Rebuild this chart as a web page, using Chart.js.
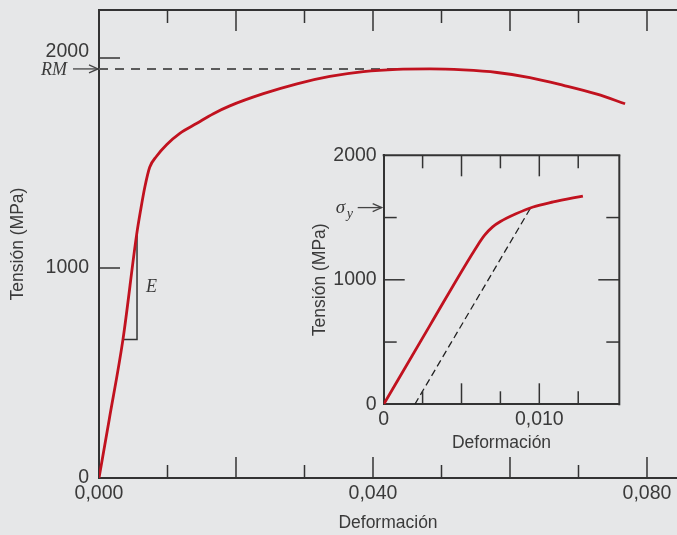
<!DOCTYPE html>
<html>
<head>
<meta charset="utf-8">
<script src="https://cdn.jsdelivr.net/npm/chart.js@4.4.0/dist/chart.umd.min.js"></script>
<style>
  html, body { margin: 0; padding: 0; background: #e6e7e8; }
  #wrap { position: relative; width: 677px; height: 535px; overflow: hidden; }
  #main { position: absolute; left: 0; top: 0; }
  #inset { position: absolute; left: 300px; top: 140px; }
</style>
</head>
<body>
<div id="wrap">
  <canvas id="main" width="677" height="535"></canvas>
  <canvas id="inset" width="340" height="320"></canvas>
</div>
<script>
// main stress-strain curve (strain, MPa)
const mainStrain = [0, 0.0015, 0.0035, 0.0055, 0.0061, 0.0067, 0.0074, 0.0084, 0.0099, 0.0118, 0.0143, 0.0167, 0.0191, 0.0240, 0.0289, 0.0337, 0.0386, 0.0435, 0.0483, 0.0532, 0.0581, 0.0629, 0.0678, 0.0727, 0.0768];
const mainStress = [0, 280, 660, 1160, 1280, 1387, 1480, 1532, 1588, 1641, 1689, 1735, 1772, 1830, 1877, 1912, 1935, 1946, 1948, 1943, 1931, 1907, 1870, 1828, 1782];

// RM level and the E triangle
const rmStress = 1948;
const rmStrain = [0, 0.046];
const slopeStrain = [0.0035, 0.00555, 0.00555];
const slopeStress = [660, 660, 1160];

// inset: early part of the curve + 0.002 offset line
const insetStrain = [0, 0.0030, 0.0060, 0.0065, 0.0070, 0.0075, 0.0085, 0.0096, 0.0109, 0.0128];
const insetStress = [0, 640, 1270, 1360, 1425, 1468, 1530, 1585, 1625, 1673];
const offsetStrain = [0.002, 0.0095];
const offsetStress = [0, 1590];
const yieldStress = 1580;

// ticks
const mainXTickValues = [0, 0.04, 0.08];
const mainXTickLabels = ['0,000', '0,040', '0,080'];
const mainYTickValues = [0, 1000, 2000];
const mainYTickLabels = ['0', '1000', ['2000', '']]; // 2000 sits a bit above its tick
const mainXMajor = [0.02, 0.04, 0.06, 0.08];
const mainXMinor = [0.01, 0.03, 0.05, 0.07];
const mainYMajor = [1000, 2000];

const insetXTickValues = [0, 0.01];
const insetXTickLabels = ['0', '0,010'];
const insetYTickValues = [0, 1000, 2000];
const insetYTickLabels = ['0', '1000', '2000'];
const insetXMajor = [0.005, 0.01];
const insetXMinor = [0.0025, 0.0075, 0.0125];
const insetYMajor = [1000];
const insetYMinor = [500, 1500];

const red = '#c1121f';
const axisColor = '#333333';
const textColor = '#3a3a3a';
const sans = "'Liberation Sans', Arial, sans-serif";
const serif = "'Liberation Serif', 'Times New Roman', serif";

function pts(xs, ys) { return xs.map((x, i) => ({x: x, y: ys[i]})); }
function pick(values, labels) {
  return v => {
    const i = values.findIndex(t => Math.abs(t - v) < 1e-7);
    return i >= 0 ? labels[i] : '';
  };
}
function fixTicks(values) {
  return s => { s.ticks = values.map(v => ({value: v})); };
}
function fitX(h) {
  return s => { s.height = h; s.paddingLeft = 0; s.paddingRight = 0; };
}
function fitY(w) {
  return s => { s.width = w; s.paddingTop = 0; s.paddingBottom = 0; };
}
function seg(ctx, x1, y1, x2, y2) {
  ctx.beginPath(); ctx.moveTo(x1, y1); ctx.lineTo(x2, y2); ctx.stroke();
}
function arrow(ctx, x1, x2, y) {
  seg(ctx, x1, y, x2, y);
  ctx.beginPath();
  ctx.moveTo(x2 - 9, y - 4); ctx.lineTo(x2, y); ctx.lineTo(x2 - 9, y + 4);
  ctx.stroke();
}

const mainDecor = {
  id: 'mainDecor',
  afterDraw(chart) {
    const {ctx, chartArea: a, scales: {x, y}} = chart;
    ctx.save();
    ctx.strokeStyle = axisColor;
    ctx.lineWidth = 2;
    seg(ctx, a.left - 1, a.top, a.right, a.top);
    ctx.lineWidth = 1.5;
    mainXMajor.forEach(v => {
      const p = x.getPixelForValue(v);
      seg(ctx, p, a.bottom, p, a.bottom - 21);
      seg(ctx, p, a.top, p, a.top + 21);
    });
    mainXMinor.forEach(v => {
      const p = x.getPixelForValue(v);
      seg(ctx, p, a.bottom, p, a.bottom - 13);
      seg(ctx, p, a.top, p, a.top + 13);
    });
    mainYMajor.forEach(v => {
      const p = y.getPixelForValue(v);
      seg(ctx, a.left, p, a.left + 21, p);
    });
    // RM arrow
    const ry = y.getPixelForValue(rmStress);
    ctx.lineWidth = 1.3;
    ctx.strokeStyle = '#444';
    arrow(ctx, a.left - 26, a.left - 1, ry);
    ctx.fillStyle = textColor;
    ctx.font = 'italic 18px ' + serif;
    ctx.textAlign = 'right';
    ctx.textBaseline = 'alphabetic';
    ctx.fillText('RM', a.left - 32, ry + 6);
    // E label
    const ex = x.getPixelForValue(slopeStrain[1]);
    const ey = y.getPixelForValue((slopeStress[0] + slopeStress[2]) / 2);
    ctx.textAlign = 'left';
    ctx.fillText('E', ex + 9, ey + 5);
    ctx.restore();
  }
};

const insetDecor = {
  id: 'insetDecor',
  afterDraw(chart) {
    const {ctx, chartArea: a, scales: {x, y}} = chart;
    ctx.save();
    ctx.strokeStyle = axisColor;
    ctx.lineWidth = 2;
    seg(ctx, a.left - 1, a.top, a.right + 1, a.top);
    seg(ctx, a.right, a.top, a.right, a.bottom + 1);
    ctx.lineWidth = 1.5;
    insetXMajor.forEach(v => {
      const p = x.getPixelForValue(v);
      seg(ctx, p, a.bottom, p, a.bottom - 21);
      seg(ctx, p, a.top, p, a.top + 21);
    });
    insetXMinor.forEach(v => {
      const p = x.getPixelForValue(v);
      seg(ctx, p, a.bottom, p, a.bottom - 13);
      seg(ctx, p, a.top, p, a.top + 13);
    });
    insetYMajor.forEach(v => {
      const p = y.getPixelForValue(v);
      seg(ctx, a.left, p, a.left + 21, p);
      seg(ctx, a.right, p, a.right - 21, p);
    });
    insetYMinor.forEach(v => {
      const p = y.getPixelForValue(v);
      seg(ctx, a.left, p, a.left + 13, p);
      seg(ctx, a.right, p, a.right - 13, p);
    });
    // sigma_y arrow
    const sy = y.getPixelForValue(yieldStress);
    ctx.lineWidth = 1.3;
    ctx.strokeStyle = '#444';
    arrow(ctx, a.left - 26, a.left - 2, sy);
    ctx.fillStyle = textColor;
    ctx.textAlign = 'left';
    ctx.textBaseline = 'alphabetic';
    ctx.font = 'italic 19px ' + serif;
    ctx.fillText('σ', a.left - 48, sy + 5);
    ctx.font = 'italic 14px ' + serif;
    ctx.fillText('y', a.left - 37, sy + 10);
    ctx.restore();
  }
};

const tickFont = {family: sans, size: 19.5};
const titleFont = {family: sans, size: 17.5};

new Chart(document.getElementById('main'), {
  type: 'scatter',
  data: {
    datasets: [
      {data: pts(mainStrain, mainStress), showLine: true, borderColor: red, borderWidth: 2.8, pointRadius: 0, cubicInterpolationMode: 'monotone'},
      {data: pts(slopeStrain, slopeStress), showLine: true, borderColor: axisColor, borderWidth: 1.5, pointRadius: 0},
      {data: pts(rmStrain, [rmStress, rmStress]), showLine: true, borderColor: '#5a5a5a', borderWidth: 2, borderDash: [9, 7], pointRadius: 0}
    ]
  },
  options: {
    responsive: false,
    animation: false,
    devicePixelRatio: 1,
    layout: {padding: {top: 10, right: 0, left: 0, bottom: 0}},
    plugins: {legend: {display: false}, tooltip: {enabled: false}},
    scales: {
      x: {
        type: 'linear', min: 0, max: 0.08438, bounds: 'data',
        afterBuildTicks: fixTicks(mainXTickValues),
        grid: {display: false, drawTicks: false},
        border: {display: true, color: axisColor, width: 2},
        ticks: {autoSkip: false, maxRotation: 0, padding: 4, color: textColor, font: tickFont, callback: pick(mainXTickValues, mainXTickLabels)},
        title: {display: true, text: 'Deformación', color: textColor, font: titleFont, padding: {top: 0, bottom: 1}},
        afterFit: fitX(57)
      },
      y: {
        type: 'linear', min: 0, max: 2228.6, bounds: 'data',
        afterBuildTicks: fixTicks(mainYTickValues),
        grid: {display: false, drawTicks: false},
        border: {display: true, color: axisColor, width: 2},
        ticks: {autoSkip: false, padding: 10, color: textColor, font: {family: sans, size: 19.5, lineHeight: 0.62}, callback: pick(mainYTickValues, mainYTickLabels)},
        title: {display: true, text: 'Tensión (MPa)', color: textColor, font: titleFont, padding: {top: 8, bottom: 0}},
        afterFit: fitY(99)
      }
    }
  },
  plugins: [mainDecor]
});

new Chart(document.getElementById('inset'), {
  type: 'scatter',
  data: {
    datasets: [
      {data: pts(insetStrain, insetStress), showLine: true, borderColor: red, borderWidth: 2.8, pointRadius: 0, cubicInterpolationMode: 'monotone'},
      {data: pts(offsetStrain, offsetStress), showLine: true, borderColor: '#222', borderWidth: 1.3, borderDash: [7, 4], pointRadius: 0}
    ]
  },
  options: {
    responsive: false,
    animation: false,
    devicePixelRatio: 1,
    layout: {padding: {top: 15.3, right: 20.7, left: 0, bottom: 0}},
    plugins: {legend: {display: false}, tooltip: {enabled: false}},
    scales: {
      x: {
        type: 'linear', min: 0, max: 0.01514, bounds: 'data',
        afterBuildTicks: fixTicks(insetXTickValues),
        grid: {display: false, drawTicks: false},
        border: {display: true, color: axisColor, width: 2},
        ticks: {autoSkip: false, maxRotation: 0, padding: 4, color: textColor, font: tickFont, callback: pick(insetXTickValues, insetXTickLabels)},
        title: {display: true, text: 'Deformación', color: textColor, font: titleFont, padding: {top: 0, bottom: 6.8}},
        afterFit: fitX(55.7)
      },
      y: {
        type: 'linear', min: 0, max: 2000, bounds: 'data',
        afterBuildTicks: fixTicks(insetYTickValues),
        grid: {display: false, drawTicks: false},
        border: {display: true, color: axisColor, width: 2},
        ticks: {autoSkip: false, padding: 7, color: textColor, font: tickFont, callback: pick(insetYTickValues, insetYTickLabels)},
        title: {display: true, text: 'Tensión (MPa)', color: textColor, font: titleFont, padding: {top: 10, bottom: 0}},
        afterFit: fitY(83.7)
      }
    }
  },
  plugins: [insetDecor]
});
</script>
</body>
</html>
